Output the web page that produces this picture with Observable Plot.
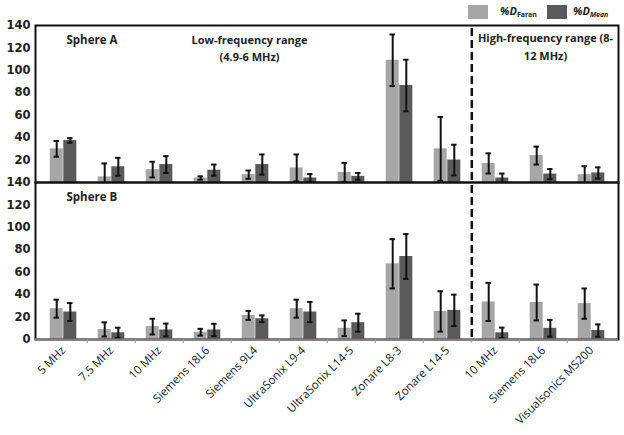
<!DOCTYPE html>
<html><head><meta charset="utf-8">
<script src="https://cdn.jsdelivr.net/npm/d3@7"></script>
<script src="https://cdn.jsdelivr.net/npm/@observablehq/plot@0.6"></script>
<style>
body{margin:0;background:#fff;}
#wrap{position:relative;width:624px;height:435px;overflow:hidden;}
#legend{position:absolute;top:0;left:0;width:624px;height:24px;font-family:"Open Sans",sans-serif;}
.sw{position:absolute;top:5px;width:20px;height:14px;}
.lt{position:absolute;top:3px;font-weight:bold;font-style:italic;font-size:11px;color:#222;white-space:nowrap;}
.lt sub{font-size:7px;vertical-align:-2px;}
</style></head>
<body>
<div id="wrap"><div id="chart"></div>
<div id="legend">
  <div class="sw" style="left:468px;background:#a6a6a6"></div>
  <div class="lt" style="left:500px">%D<sub style="font-style:normal">Faran</sub></div>
  <div class="sw" style="left:547px;background:#5a5a5a"></div>
  <div class="lt" style="left:573px">%D<sub>Mean</sub></div>
</div></div>
<script>
const categories = ["5 MHz","7.5 MHz","10 MHz","Siemens 18L6","Siemens 9L4","UltraSonix L9-4","UltraSonix L14-5","Zonare L8-3","Zonare L14-5","10 MHz","Siemens 18L6","Visualsonics MS200"];
const spheres = ["A","B"];
const seriesNames = ["Faran","Mean"];
const seriesColors = ["#a6a6a6","#5a5a5a"];
const yTicks = [0,20,40,60,80,100,120,140];

// Sphere A
const aFaran    = [30, 5, 11.5, 4, 7, 13, 9, 109, 30, 17, 24, 7];
const aFaranErr = [7, 12, 7, 1.5, 3.7, 12, 8.5, 23, 28.5, 9, 8, 7.5];
const aMean     = [37.5, 14, 16, 11, 16, 4, 5.5, 86.5, 20, 4, 7.5, 8.5];
const aMeanErr  = [2, 8, 7.5, 5, 9, 3.5, 3, 23, 13.7, 4, 4.5, 5];
// Sphere B
const bFaran    = [27.5, 9, 11.5, 6.5, 21.5, 27.5, 10, 67.5, 25, 33.5, 33, 32];
const bFaranErr = [8, 6.3, 7, 3, 4, 8, 7, 22, 18, 17, 16, 13.5];
const bMean     = [24.5, 6, 8.5, 8.5, 18.5, 24.5, 15, 74, 26, 6, 10, 8];
const bMeanErr  = [8, 4.5, 5.7, 5.5, 3, 9, 8, 20, 14, 4.6, 7.5, 5.5];

const keys = categories.map((c, i) => String(i));
const table = [];
const src = {A: [[aFaran, aFaranErr], [aMean, aMeanErr]], B: [[bFaran, bFaranErr], [bMean, bMeanErr]]};
for (const s of spheres) {
  seriesNames.forEach((name, si) => {
    const [vals, errs] = src[s][si];
    keys.forEach((k, i) => table.push({sphere: s, key: k, series: name, value: vals[i], lo: Math.max(0, vals[i] - errs[i]), hi: vals[i] + errs[i]}));
  });
}

const W = 624, H = 435, ML = 35, MR = 6, MT = 25, MB = 96;
const bw = (W - ML - MR) / keys.length;
const inA = 0.22 * bw, inB = 0.5 * bw;       // bar insets
const off = 0.14 * bw;                          // bar centre offset from band centre
const cap = 3;

const seriesMarks = seriesNames.flatMap((name, si) => {
  const data = table.filter(d => d.series === name);
  const left = si === 0;
  const cx = left ? bw / 2 - off : bw / 2 + off;
  return [
    Plot.barY(data, {x: "key", y: "value", fy: "sphere", fill: seriesColors[si],
      insetLeft: left ? inA : inB, insetRight: left ? inB : inA}),
    Plot.ruleX(data, {x: "key", y1: "lo", y2: "hi", fy: "sphere", dx: left ? -off : off, stroke: "#111", strokeWidth: 2}),
    Plot.tickY(data, {x: "key", y: "hi", fy: "sphere", stroke: "#111", strokeWidth: 2, insetLeft: cx - cap, insetRight: bw - cx - cap}),
    Plot.tickY(data.filter(d => d.lo > 0), {x: "key", y: "lo", fy: "sphere", stroke: "#111", strokeWidth: 2, insetLeft: cx - cap, insetRight: bw - cx - cap})
  ];
});

const yLabels = spheres.flatMap(s => yTicks.filter(t => !(s === "A" && t === 0)).map(t => ({sphere: s, t})));
const notes = [
  {sphere: "A", key: keys[0], text: "Sphere A"},
  {sphere: "B", key: keys[0], text: "Sphere B"},
];
const ranges = [
  {sphere: "A", key: keys[4], text: "Low-frequency range\n(4.9-6 MHz)"},
  {sphere: "A", key: keys[10], text: "High-frequency range (8-\n12 MHz)"},
];

const chart = Plot.plot({
  width: W, height: H,
  marginLeft: ML, marginRight: MR, marginTop: MT, marginBottom: MB,
  style: {fontFamily: "Open Sans", fontSize: "11.5px", color: "#1a1a1a", background: "white"},
  x: {type: "band", domain: keys, padding: 0, tickFormat: k => categories[+k], tickRotate: -45, tickSize: 0, tickPadding: 9, label: null},
  y: {domain: [0, 140], axis: null},
  fy: {domain: spheres, padding: 0, axis: null},
  marks: [
    ...seriesMarks,
    Plot.frame({stroke: "#111", strokeWidth: 2}),
    Plot.ruleY([{sphere: "B"}], {y: 0, fy: "sphere", stroke: "#808080", strokeWidth: 2}),
    Plot.ruleX(keys.slice(1).map(k => ({sphere: "B", key: k})), {x: "key", fy: "sphere", dx: -bw / 2, y1: 0, y2: 0, insetBottom: -4, stroke: "#999", strokeWidth: 1}),
    Plot.ruleX([keys[8]], {x: d => d, dx: bw / 2, stroke: "#111", strokeWidth: 2.5, strokeDasharray: "8,4", insetTop: 3}),
    Plot.text(yLabels, {y: "t", fy: "sphere", text: d => String(d.t), frameAnchor: "left", textAnchor: "end", dx: -5,
      fontFamily: "DejaVu Sans", fontWeight: "bold", fontSize: 11.5, fill: "#222"}),
    Plot.text(notes, {x: "key", fy: "sphere", text: "text", frameAnchor: "top", dy: 10, dx: 3, textAnchor: "start",
      fontWeight: "bold", fontSize: 11.5, fill: "#222"}),
    Plot.text(ranges.slice(0,1), {x: "key", fy: "sphere", text: "text", frameAnchor: "top", dy: 7, dx: -6, lineHeight: 1.5,
      fontWeight: "bold", fontSize: 11, fill: "#222"}),
    Plot.text(ranges.slice(1), {x: "key", fy: "sphere", text: "text", frameAnchor: "top", dy: 4, dx: 2, lineHeight: 1.6,
      fontWeight: "bold", fontSize: 11, fill: "#222"})
  ]
});
document.getElementById("chart").appendChild(chart);
</script>
</body></html>
